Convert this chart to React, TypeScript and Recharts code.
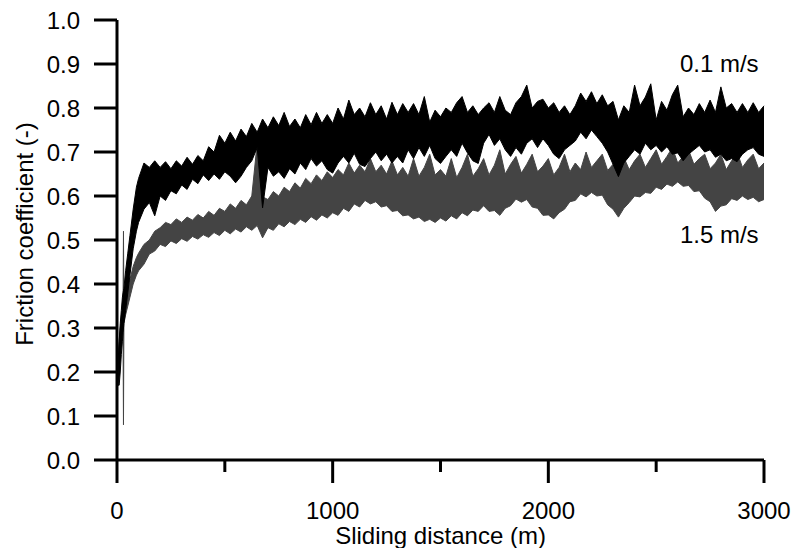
import { Area, ComposedChart, Label, ReferenceDot, XAxis, YAxis } from "recharts";

const FONT = '"Liberation Sans", Arial, sans-serif';

// sliding distance (m) at which the band edges were read
const DISTANCE = [
  5, 10, 15, 20, 25, 28, 30, 32, 40, 50, 60, 75, 90,
  100, 125, 150, 175, 200, 225, 250, 275, 300, 325, 350, 375, 400,
  425, 450, 475, 500, 525, 550, 575, 600, 625, 650, 675, 700,
  725, 750, 775, 800, 825, 850, 875, 900, 925, 950, 975, 1000,
  1025, 1050, 1075, 1100, 1125, 1150, 1175, 1200, 1225, 1250, 1275, 1300,
  1325, 1350, 1375, 1400, 1425, 1450, 1475, 1500, 1525, 1550, 1575, 1600,
  1625, 1650, 1675, 1700, 1725, 1750, 1775, 1800, 1825, 1850, 1875, 1900,
  1925, 1950, 1975, 2000, 2025, 2050, 2075, 2100, 2125, 2150, 2175, 2200,
  2225, 2250, 2275, 2300, 2325, 2350, 2375, 2400, 2425, 2450, 2475, 2500,
  2525, 2550, 2575, 2600, 2625, 2650, 2675, 2700, 2725, 2750, 2775, 2800,
  2825, 2850, 2875, 2900, 2925, 2950, 2975, 3000,
];

// 0.1 m/s: lower and upper edge of the noisy trace
const LOW_01 = [
  0.17, 0.17, 0.2, 0.24, 0.27, 0.29, 0.3, 0.31, 0.34, 0.38, 0.42, 0.48, 0.52,
  0.54, 0.57, 0.585, 0.555, 0.6, 0.59, 0.612, 0.605, 0.625, 0.615, 0.638, 0.628, 0.648,
  0.635, 0.65, 0.638, 0.655, 0.645, 0.63, 0.645, 0.665, 0.68, 0.71, 0.573, 0.665,
  0.645, 0.655, 0.64, 0.662, 0.65, 0.675, 0.66, 0.685, 0.668, 0.68, 0.66, 0.652,
  0.675, 0.69, 0.675, 0.697, 0.672, 0.667, 0.685, 0.7, 0.68, 0.695, 0.675, 0.69,
  0.675, 0.705, 0.685, 0.71, 0.69, 0.715, 0.685, 0.674, 0.69, 0.705, 0.69, 0.72,
  0.698, 0.68, 0.674, 0.72, 0.74, 0.715, 0.73, 0.705, 0.69, 0.71, 0.695, 0.72,
  0.73, 0.71, 0.73, 0.715, 0.695, 0.685, 0.705, 0.715, 0.725, 0.745, 0.73, 0.75,
  0.735, 0.72, 0.7, 0.672, 0.644, 0.675, 0.69, 0.705, 0.695, 0.72, 0.705, 0.715,
  0.7, 0.712, 0.695, 0.698, 0.68, 0.695, 0.705, 0.715, 0.7, 0.705, 0.688, 0.695,
  0.68, 0.685, 0.678, 0.695, 0.705, 0.71, 0.695, 0.69,
];
const HIGH_01 = [
  0.22, 0.27, 0.31, 0.34, 0.37, 0.38, 0.385, 0.39, 0.43, 0.47, 0.51, 0.57, 0.62,
  0.64, 0.675, 0.665, 0.68, 0.665, 0.678, 0.662, 0.68, 0.668, 0.688, 0.672, 0.692, 0.68,
  0.712, 0.7, 0.738, 0.72, 0.745, 0.725, 0.752, 0.735, 0.765, 0.745, 0.775, 0.755,
  0.78, 0.76, 0.79, 0.758, 0.775, 0.755, 0.785, 0.762, 0.79, 0.765, 0.785, 0.765,
  0.8, 0.775, 0.818, 0.785, 0.8, 0.78, 0.812, 0.785, 0.805, 0.775, 0.813, 0.785,
  0.81, 0.79, 0.81, 0.785, 0.826, 0.768, 0.795, 0.78, 0.8, 0.79, 0.812, 0.826,
  0.79, 0.805, 0.785, 0.8, 0.812, 0.79, 0.826, 0.795, 0.785, 0.812, 0.826, 0.852,
  0.8, 0.815, 0.82, 0.8, 0.812, 0.79, 0.805, 0.785, 0.805, 0.834, 0.815, 0.837,
  0.81, 0.83, 0.805, 0.815, 0.773, 0.805, 0.79, 0.852, 0.805, 0.825, 0.855, 0.773,
  0.815, 0.795, 0.83, 0.852, 0.78, 0.8, 0.785, 0.81, 0.79, 0.818, 0.79, 0.848,
  0.8, 0.81, 0.79, 0.81, 0.79, 0.812, 0.79, 0.805,
];

// 1.5 m/s: lower and upper edge of the noisy trace
const LOW_15 = [
  0.18, 0.21, 0.24, 0.27, 0.29, 0.3, 0.08, 0.31, 0.33, 0.35, 0.37, 0.4, 0.42,
  0.43, 0.445, 0.468, 0.475, 0.49, 0.485, 0.498, 0.492, 0.503, 0.497, 0.508, 0.502, 0.512,
  0.506, 0.517, 0.51, 0.522, 0.514, 0.525, 0.518, 0.53, 0.522, 0.533, 0.505, 0.528,
  0.522, 0.537, 0.53, 0.542, 0.535, 0.547, 0.54, 0.553, 0.545, 0.557, 0.55, 0.562,
  0.556, 0.572, 0.565, 0.582, 0.575, 0.59, 0.582, 0.587, 0.575, 0.578, 0.565, 0.567,
  0.555, 0.557, 0.548, 0.552, 0.542, 0.547, 0.54, 0.55, 0.543, 0.555, 0.548, 0.562,
  0.555, 0.568, 0.565, 0.578, 0.565, 0.567, 0.556, 0.572, 0.578, 0.593, 0.586, 0.592,
  0.575, 0.572, 0.556, 0.557, 0.548, 0.562, 0.57, 0.587, 0.59, 0.605, 0.598, 0.608,
  0.6, 0.602, 0.58, 0.57, 0.552, 0.572, 0.585, 0.6, 0.598, 0.608, 0.606, 0.62,
  0.615, 0.627, 0.622, 0.632, 0.622, 0.624, 0.61, 0.612, 0.595, 0.587, 0.565, 0.577,
  0.58, 0.594, 0.59, 0.6, 0.592, 0.597, 0.587, 0.592,
];
const HIGH_15 = [
  0.24, 0.27, 0.3, 0.32, 0.34, 0.35, 0.52, 0.355, 0.37, 0.39, 0.41, 0.44, 0.46,
  0.47, 0.49, 0.5, 0.52, 0.528, 0.54, 0.535, 0.548, 0.54, 0.552, 0.545, 0.558, 0.55,
  0.565, 0.556, 0.572, 0.565, 0.582, 0.572, 0.59, 0.58, 0.6, 0.72, 0.598, 0.592,
  0.61, 0.6, 0.62, 0.61, 0.63, 0.618, 0.64, 0.628, 0.648, 0.635, 0.655, 0.642,
  0.66, 0.648, 0.675, 0.652, 0.67, 0.655, 0.685, 0.655, 0.67, 0.65, 0.68, 0.648,
  0.665, 0.645, 0.685, 0.645, 0.665, 0.695, 0.648, 0.66, 0.645, 0.685, 0.642, 0.665,
  0.695, 0.645, 0.662, 0.685, 0.648, 0.67, 0.705, 0.65, 0.672, 0.69, 0.652, 0.672,
  0.695, 0.655, 0.668, 0.685, 0.648, 0.665, 0.695, 0.655, 0.675, 0.66, 0.7, 0.665,
  0.68, 0.695, 0.658, 0.672, 0.652, 0.688, 0.66, 0.68, 0.695, 0.665, 0.685, 0.705,
  0.672, 0.69, 0.71, 0.675, 0.69, 0.705, 0.672, 0.685, 0.695, 0.662, 0.675, 0.695,
  0.66, 0.68, 0.7, 0.665, 0.682, 0.695, 0.662, 0.675,
];

const X_TICKS = [0, 500, 1000, 1500, 2000, 2500, 3000];
const Y_TICKS = [0, 0.1, 0.2, 0.3, 0.4, 0.5, 0.6, 0.7, 0.8, 0.9, 1.0];

const chartData = DISTANCE.map((distance, i) => ({
  distance,
  slow: [LOW_01[i], HIGH_01[i]],
  fast: [LOW_15[i], HIGH_15[i]],
}));

function DistanceTick(props: any) {
  const { x, y, payload } = props;
  const major = payload.value % 1000 === 0;
  // label sits tickSize + tickMargin below the axis line
  const axisY = y - 42;
  return (
    <g>
      <line x1={x} x2={x} y1={axisY} y2={axisY + (major ? 23 : 12)} stroke="#000" strokeWidth={3} />
      {major && (
        <text x={x} y={y} dy="0.71em" textAnchor="middle" fill="#000" fontSize={24} fontFamily={FONT}>
          {payload.value}
        </text>
      )}
    </g>
  );
}

function xTitle(props: any) {
  const vb = props.viewBox;
  return (
    <text x={vb.x + vb.width / 2} y={vb.y + 84} textAnchor="middle" fill="#000" fontSize={24} fontFamily={FONT}>
      Sliding distance (m)
    </text>
  );
}

function yTitle(props: any) {
  const vb = props.viewBox;
  const cx = vb.x + 33;
  const cy = vb.y + vb.height / 2 - 6;
  return (
    <text
      x={cx}
      y={cy}
      transform={`rotate(-90 ${cx} ${cy})`}
      textAnchor="middle"
      fill="#000"
      fontSize={24}
      fontFamily={FONT}
    >
      Friction coefficient (-)
    </text>
  );
}

function annotation(text: string) {
  return (props: any) => (
    <text x={props.viewBox.x} y={props.viewBox.y} fill="#000" fontSize={24} fontFamily={FONT}>
      {text}
    </text>
  );
}

export default function App() {
  return (
    <div style={{ position: "absolute", left: 0, top: 0, background: "#fff" }}>
      <ComposedChart width={794} height={548} data={chartData} margin={{ top: 20, right: 30, bottom: 0, left: 0 }}>
        <XAxis
          type="number"
          dataKey="distance"
          domain={[0, 3000]}
          ticks={X_TICKS}
          interval={0}
          height={88}
          axisLine={{ stroke: "#000", strokeWidth: 3 }}
          tickLine={false}
          tickSize={23}
          tickMargin={19}
          tick={<DistanceTick />}
        >
          <Label content={xTitle} />
        </XAxis>
        <YAxis
          type="number"
          domain={[0, 1]}
          ticks={Y_TICKS}
          interval={0}
          width={117}
          tickFormatter={(v: number) => v.toFixed(1)}
          axisLine={{ stroke: "#000", strokeWidth: 3 }}
          tickLine={{ stroke: "#000", strokeWidth: 3 }}
          tickSize={23}
          tickMargin={14}
          tick={{ fill: "#000", fontSize: 24, fontFamily: FONT }}
        >
          <Label content={yTitle} />
        </YAxis>
        <Area
          type="linear"
          dataKey="fast"
          stroke="#444444"
          strokeWidth={1}
          fill="#444444"
          fillOpacity={1}
          dot={false}
          activeDot={false}
          isAnimationActive={false}
        />
        <Area
          type="linear"
          dataKey="slow"
          stroke="#000"
          strokeWidth={1}
          fill="#000"
          fillOpacity={1}
          dot={false}
          activeDot={false}
          isAnimationActive={false}
        />
        <ReferenceDot x={2610} y={0.882} r={0} fill="none" stroke="none">
          <Label content={annotation("0.1 m/s")} />
        </ReferenceDot>
        <ReferenceDot x={2610} y={0.493} r={0} fill="none" stroke="none">
          <Label content={annotation("1.5 m/s")} />
        </ReferenceDot>
      </ComposedChart>
    </div>
  );
}
